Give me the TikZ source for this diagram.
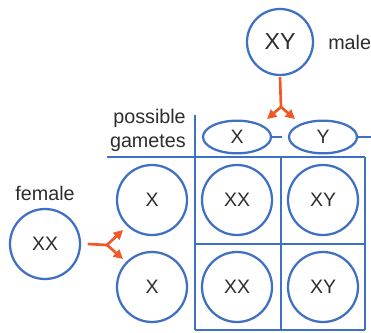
\documentclass[tikz,border=0pt]{standalone}
\usepackage{fontspec}
\setmainfont{Liberation Sans}
\usetikzlibrary{arrows.meta,shapes.geometric}
\definecolor{cellblue}{RGB}{64,112,196}
\definecolor{arroworange}{RGB}{240,88,40}
\definecolor{inkgray}{RGB}{45,45,45}
\begin{document}
\begin{tikzpicture}[x=0.75pt,y=-0.75pt,
  blueline/.style={draw=cellblue,line width=1.7pt},
  cell/.style={circle,blueline,minimum size=52.5pt,inner sep=0pt,
    text=inkgray,font=\fontsize{14.6}{16}\selectfont},
  gamete/.style={ellipse,blueline,minimum width=51pt,minimum height=24.5pt,
    inner sep=0pt,text=inkgray,font=\fontsize{14.6}{16}\selectfont},
  word/.style={text=inkgray,font=\fontsize{14.8}{18}\selectfont,inner sep=0pt},
  split/.style={draw=arroworange,line width=2pt},
  splittip/.style={split,-{Triangle[length=7pt,width=7pt]}}]
\useasboundingbox (0,0) rectangle (371,332);

% Punnett grid
\draw[blueline] (107,157) -- (365,157);
\draw[blueline] (195,115) -- (195,330);
\draw[blueline] (195,244) -- (365,244);
\draw[blueline] (195,330) -- (365,330);
\draw[blueline] (281,157) -- (281,330);
\draw[blueline] (365,157) -- (365,330);

% parents
\node[cell,minimum size=49.5pt,font=\fontsize{17.4}{19}\selectfont] (male) at (280,42) {XY};
\node[word,anchor=west] (malelabel) at (328,42) {male};
\node[cell] (female) at (45,244) {XX};
\node[word] (femalelabel) at (45,193) {female};

% gametes
\node[word,align=right,anchor=east] (possible) at (186,130)
  {possible\\gametes};
\node[gamete] (gx) at (237,137) {X};
\node[gamete] (gy) at (323,137) {Y};
\coordinate (gxend) at (282,137);
\coordinate (gyend) at (371,137);
\draw[blueline] (gx.east) -- (gxend);
\draw[blueline] (gy.east) -- (gyend);

\node[cell] (ex1) at (152,200) {X};
\node[cell] (ex2) at (152,287) {X};

% offspring
\node[cell] (c11) at (237,200) {XX};
\node[cell] (c12) at (323,200) {XY};
\node[cell] (c21) at (237,287) {XX};
\node[cell] (c22) at (323,287) {XY};

% forked arrows
\coordinate (mfork) at (281,107);
\coordinate (mtipx) at (267,119);
\coordinate (mtipy) at (295,119);
\draw[split] (male.south) ++(0,1) -- (mfork);
\draw[splittip] (mfork) -- (mtipx);
\draw[splittip] (mfork) -- (mtipy);

\coordinate (ffork) at (107,245);
\coordinate (ftip1) at (123,230);
\coordinate (ftip2) at (123,259);
\draw[split] ([xshift=5pt]female.east) -- (ffork);
\draw[splittip] (ffork) -- (ftip1);
\draw[splittip] (ffork) -- (ftip2);
\end{tikzpicture}
\end{document}
